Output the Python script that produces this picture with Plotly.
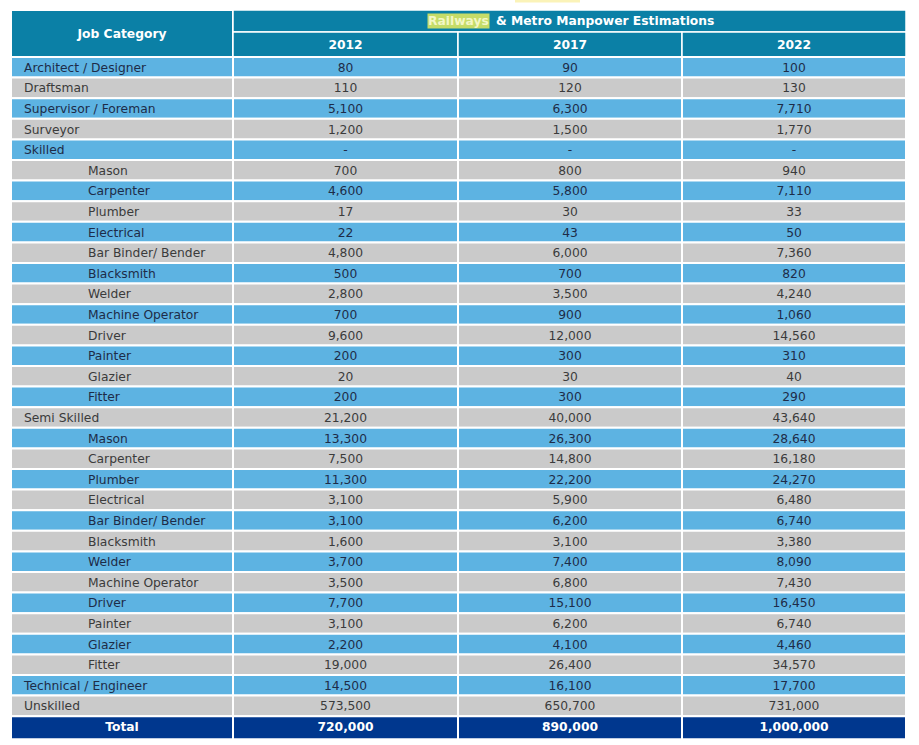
import plotly.graph_objects as go

# ---------------- data ----------------
CATEGORIES = [
    "Architect / Designer", "Draftsman", "Supervisor / Foreman", "Surveyor", "Skilled",
    "Mason", "Carpenter", "Plumber", "Electrical", "Bar Binder/ Bender", "Blacksmith",
    "Welder", "Machine Operator", "Driver", "Painter", "Glazier", "Fitter",
    "Semi Skilled",
    "Mason", "Carpenter", "Plumber", "Electrical", "Bar Binder/ Bender", "Blacksmith",
    "Welder", "Machine Operator", "Driver", "Painter", "Glazier", "Fitter",
    "Technical / Engineer", "Unskilled",
]
LEVELS = [0, 0, 0, 0, 0,
          1, 1, 1, 1, 1, 1, 1, 1, 1, 1, 1, 1,
          0,
          1, 1, 1, 1, 1, 1, 1, 1, 1, 1, 1, 1,
          0, 0]
Y2012 = [80, 110, 5100, 1200, None,
         700, 4600, 17, 22, 4800, 500, 2800, 700, 9600, 200, 20, 200,
         21200,
         13300, 7500, 11300, 3100, 3100, 1600, 3700, 3500, 7700, 3100, 2200, 19000,
         14500, 573500]
Y2017 = [90, 120, 6300, 1500, None,
         800, 5800, 30, 43, 6000, 700, 3500, 900, 12000, 300, 30, 300,
         40000,
         26300, 14800, 22200, 5900, 6200, 3100, 7400, 6800, 15100, 6200, 4100, 26400,
         16100, 650700]
Y2022 = [100, 130, 7710, 1770, None,
         940, 7110, 33, 50, 7360, 820, 4240, 1060, 14560, 310, 40, 290,
         43640,
         28640, 16180, 24270, 6480, 6740, 3380, 8090, 7430, 16450, 6740, 4460, 34570,
         17700, 731000]
YEARS = ["2012", "2017", "2022"]
TOTALS = [720000, 890000, 1000000]
TOTAL_LABEL = "Total"
FIRST_HEADER = "Job Category"
TITLE_HIGHLIGHT = "Railways"
TITLE_REST = "& Metro Manpower Estimations"

# ---------------- layout / style ----------------
W, H = 919, 745
COL_EDGES = [11, 233, 458, 682, 906]
HEAD_TOP, HEAD_MID, HEAD_BOT = 10, 32, 57
ROW_H = 20.6
TOTAL_H = 23
INDENT = [13, 77]
TITLE_SPLIT_X = 490
TEXT_DY = 1.5

TEAL = "#0b80a6"
BLUE = "#5db3e2"
GRAY = "#cacaca"
NAVY = "#00378e"
TXT_BLUE = "#1d2c48"
TXT_GRAY = "#3b3b3b"
FONT = "DejaVu Sans"
FS = 12.3

n = len(CATEGORIES)
series = [Y2012, Y2017, Y2022]


def fmt(v):
    return "-" if v is None else f"{v:,}"


def row_top(i):
    return HEAD_BOT + i * ROW_H


shapes = []


def rect(x0, x1, y0, y1, fill, lw=2):
    shapes.append(dict(type="rect", xref="x", yref="y", x0=x0, x1=x1, y0=y0, y1=y1,
                       fillcolor=fill, line=dict(color="white", width=lw), layer="below"))


# header cells
rect(COL_EDGES[0], COL_EDGES[1], HEAD_TOP, HEAD_BOT, TEAL)
rect(COL_EDGES[1], COL_EDGES[-1], HEAD_TOP, HEAD_MID, TEAL, lw=1.5)
for j in range(3):
    rect(COL_EDGES[j + 1], COL_EDGES[j + 2], HEAD_MID, HEAD_BOT, TEAL, lw=1.5)

# body cells
row_fills = []
for i in range(n):
    fill = BLUE if i % 2 == 0 else GRAY
    row_fills.append(fill)
    for j in range(4):
        rect(COL_EDGES[j], COL_EDGES[j + 1], row_top(i), row_top(i) + ROW_H, fill)
# total row
t0 = row_top(n)
for j in range(4):
    rect(COL_EDGES[j], COL_EDGES[j + 1], t0, t0 + TOTAL_H, NAVY)

# small highlight fragment at top (cropped text above the table)
shapes.append(dict(type="rect", xref="x", yref="y", x0=515, x1=580, y0=0, y1=2.5,
                   fillcolor="#fbf3b8", line=dict(width=0), layer="below"))

fig = go.Figure()

row_centers = [row_top(i) + ROW_H / 2 + TEXT_DY for i in range(n)]
text_colors = [TXT_BLUE if f == BLUE else TXT_GRAY for f in row_fills]

# first column labels
fig.add_trace(go.Scatter(
    x=[COL_EDGES[0] + INDENT[lv] for lv in LEVELS], y=row_centers,
    mode="text", text=CATEGORIES, textposition="middle right",
    textfont=dict(family=FONT, size=FS, color=text_colors),
    hoverinfo="skip", showlegend=False,
))

# value columns
for j, vals in enumerate(series):
    cx = (COL_EDGES[j + 1] + COL_EDGES[j + 2]) / 2
    fig.add_trace(go.Scatter(
        x=[cx] * n, y=row_centers, mode="text", text=[fmt(v) for v in vals],
        textposition="middle center",
        textfont=dict(family=FONT, size=FS, color=text_colors),
        hoverinfo="skip", showlegend=False,
    ))

# total row text
tc = t0 + TOTAL_H / 2
fig.add_trace(go.Scatter(
    x=[(COL_EDGES[k] + COL_EDGES[k + 1]) / 2 for k in range(4)], y=[tc] * 4,
    mode="text", text=[TOTAL_LABEL] + [fmt(v) for v in TOTALS],
    textposition="middle center",
    textfont=dict(family=FONT, size=FS, color="white", weight="bold"),
    hoverinfo="skip", showlegend=False,
))

# header text
fig.add_trace(go.Scatter(
    x=[(COL_EDGES[0] + COL_EDGES[1]) / 2] + [(COL_EDGES[j + 1] + COL_EDGES[j + 2]) / 2 for j in range(3)],
    y=[(HEAD_TOP + HEAD_BOT) / 2 + TEXT_DY] + [(HEAD_MID + HEAD_BOT) / 2 + TEXT_DY] * 3,
    mode="text", text=[FIRST_HEADER] + YEARS, textposition="middle center",
    textfont=dict(family=FONT, size=FS, color="white", weight="bold"),
    hoverinfo="skip", showlegend=False,
))

annotations = [
    dict(x=TITLE_SPLIT_X, y=(HEAD_TOP + HEAD_MID) / 2, xref="x", yref="y",
         text=TITLE_HIGHLIGHT, showarrow=False, xanchor="right", yanchor="middle",
         bgcolor="#c5dc68", borderpad=0,
         font=dict(family=FONT, size=FS, color="#f3f7c6", weight="bold")),
    dict(x=TITLE_SPLIT_X + 4, y=(HEAD_TOP + HEAD_MID) / 2, xref="x", yref="y",
         text=TITLE_REST, showarrow=False, xanchor="left", yanchor="middle",
         font=dict(family=FONT, size=FS, color="white", weight="bold")),
]

fig.update_layout(
    width=W, height=H, margin=dict(l=0, r=0, t=0, b=0),
    paper_bgcolor="white", plot_bgcolor="white",
    xaxis=dict(range=[0, W], visible=False, fixedrange=True),
    yaxis=dict(range=[H, 0], visible=False, fixedrange=True),
    shapes=shapes, annotations=annotations, showlegend=False,
)

fig.write_html("out.html", config={"displayModeBar": False},
               post_script="document.body.style.margin='0';")
